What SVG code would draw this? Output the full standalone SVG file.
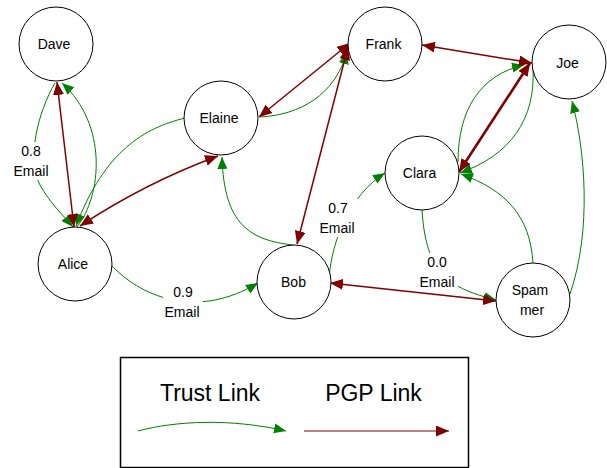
<svg xmlns="http://www.w3.org/2000/svg" width="607" height="468" viewBox="0 0 607 468">
  <style>
    text { font-family: "Liberation Sans", Arial, sans-serif; fill: #000; text-anchor: middle; }
    .node circle { fill: #fff; stroke: #000; stroke-width: 1; }
    .node text { font-size: 14px; }
    .lbl text { font-size: 14px; }
    .lbl rect { fill: #fff; stroke: none; }
    .trust { fill: none; stroke: #008000; stroke-width: 1; marker-end: url(#ag); }
    .pgp { fill: none; stroke: #800000; stroke-width: 1.5; marker-start: url(#ar); marker-end: url(#ar); }
    .legend-title { font-size: 23px; }
  </style>
  <defs>
    <marker id="ag" markerUnits="userSpaceOnUse" viewBox="0 0 12 10" markerWidth="12" markerHeight="10" refX="12" refY="5" orient="auto">
      <path d="M0,0 L12,5 L0,10 z" fill="#008000"/>
    </marker>
    <marker id="ar" markerUnits="userSpaceOnUse" viewBox="0 0 13 11" markerWidth="13" markerHeight="11" refX="13" refY="5.5" orient="auto-start-reverse">
      <path d="M0,0 L13,5.5 L0,11 z" fill="#800000"/>
    </marker>
  </defs>

  <!-- connectors: trust links (green) first, PGP links (dark red) on top -->
  <g id="connectors">
    <path class="trust" d="M55,83 C38,112 26,160 40,185 C50,203 62,214 73,227"/>
    <path class="trust" d="M77,227 C102,195 108,125 62,83"/>
    <path class="trust" d="M185,118 C145,128 105,150 76,226"/>
    <path class="trust" d="M293,245 C250,240 224,225 222,157"/>
    <path class="trust" d="M260,117 C300,115 335,95 347,52"/>
    <path class="trust" d="M458,162 C458,110 480,75 524,65"/>
    <path class="trust" d="M533,67 C536,120 510,155 460,173"/>
    <path class="trust" d="M533,263 C530,215 505,190 461,174"/>
    <path class="trust" d="M570,294 C592,230 585,150 572,101"/>
    <path class="trust" d="M422,210 C426,275 450,288 496,300"/>
    <path class="trust" d="M329,278 C332,240 350,195 385,173"/>
    <path class="trust" d="M112,266 C145,300 200,318 258,283"/>

    <path class="pgp" d="M57,82 L74,227"/>
    <path class="pgp" d="M80,226 Q145,183 218,156"/>
    <path class="pgp" d="M259,117 L350,43"/>
    <path class="pgp" d="M348,47 L297,244"/>
    <path class="pgp" d="M422,45 L532,63"/>
    <path class="pgp" d="M530,63 L459,172" style="stroke-width:2.6"/>
    <path class="pgp" d="M330,283 L496,301"/>
  </g>

  <!-- edge labels -->
  <g id="edge-labels" class="lbl">
    <g id="lbl-dave-alice">
      <rect x="12" y="142" width="40" height="38"/>
      <text x="31" y="156">0.8</text>
      <text x="31" y="176">Email</text>
    </g>
    <g id="lbl-alice-bob">
      <rect x="163" y="283" width="40" height="38"/>
      <text x="183" y="297">0.9</text>
      <text x="182" y="317">Email</text>
    </g>
    <g id="lbl-bob-clara">
      <rect x="318" y="199" width="40" height="38"/>
      <text x="338" y="213">0.7</text>
      <text x="337" y="233">Email</text>
    </g>
    <g id="lbl-clara-spammer">
      <rect x="418" y="253" width="40" height="38"/>
      <text x="437" y="267">0.0</text>
      <text x="437" y="287">Email</text>
    </g>
  </g>

  <!-- nodes -->
  <g id="node-dave" class="node"><circle cx="56" cy="44" r="37"/><text x="54" y="49">Dave</text></g>
  <g id="node-alice" class="node"><circle cx="75" cy="264" r="37"/><text x="73" y="269">Alice</text></g>
  <g id="node-elaine" class="node"><circle cx="221" cy="118" r="37"/><text x="219" y="123">Elaine</text></g>
  <g id="node-frank" class="node"><circle cx="385" cy="44" r="37"/><text x="383.5" y="49">Frank</text></g>
  <g id="node-joe" class="node"><circle cx="569" cy="62" r="37"/><text x="567.5" y="68">Joe</text></g>
  <g id="node-clara" class="node"><circle cx="422" cy="173" r="37"/><text x="419.5" y="178">Clara</text></g>
  <g id="node-bob" class="node"><circle cx="294" cy="282" r="37"/><text x="293.5" y="287">Bob</text></g>
  <g id="node-spammer" class="node"><circle cx="533" cy="300" r="37"/><text x="530" y="295">Spam</text><text x="532" y="315">mer</text></g>

  <!-- legend -->
  <g id="legend">
    <rect x="120.5" y="357.5" width="348" height="110" fill="#fff" stroke="#000" stroke-width="1.5"/>
    <text class="legend-title" x="210" y="401">Trust Link</text>
    <text class="legend-title" x="373.5" y="401">PGP Link</text>
    <path d="M138,431 C175,421 230,418 286,431" fill="none" stroke="#008000" stroke-width="1" marker-end="url(#ag)"/>
    <path d="M304,431 L449,431" fill="none" stroke="#800000" stroke-width="1" marker-end="url(#ar)"/>
  </g>
</svg>
